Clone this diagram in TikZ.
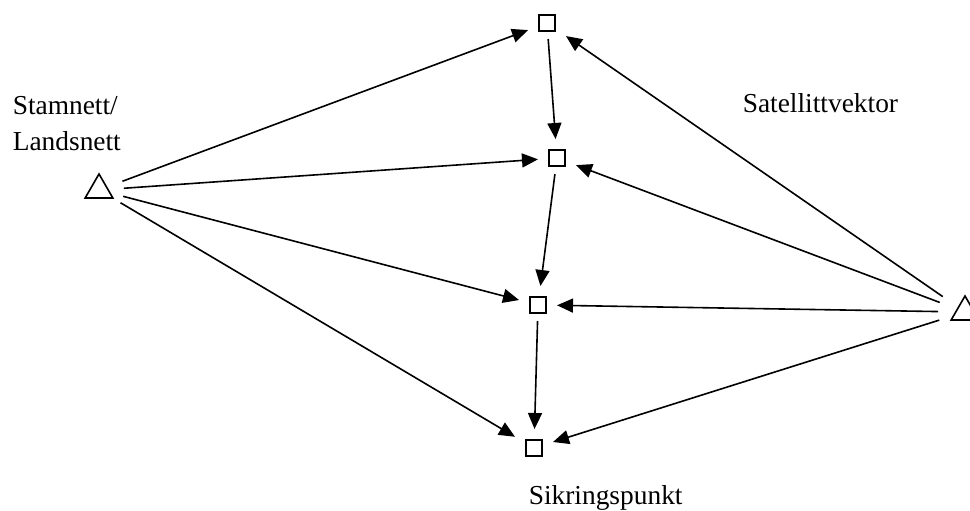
\documentclass[tikz,border=0pt]{standalone}
\usepackage{fontspec}
\setmainfont{Liberation Serif}
\usetikzlibrary{arrows.meta,shapes.geometric}
\begin{document}
\begin{tikzpicture}[x=1pt,y=-1pt,
  line width=1.6pt,
  sq/.style={draw,rectangle,minimum size=16pt,inner sep=0pt,line width=1.6pt,outer sep=11pt},
  tri/.style={draw,regular polygon,regular polygon sides=3,minimum size=32pt,inner sep=0pt,line width=1.6pt},
  arr/.style={-{Triangle[length=16pt,width=14pt]}},
  lbl/.style={font=\fontsize{27.4pt}{36pt}\selectfont,inner sep=0pt,align=left}]
\useasboundingbox (0,0) rectangle (970,511);
\node[tri] (L) at (99,190) {};
\node[tri] (R) at (965,312) {};
\node[sq] (s1) at (547,23) {};
\node[sq] (s2) at (557,158) {};
\node[sq] (s3) at (538,305) {};
\node[sq] (s4) at (534,448) {};
\node[lbl,anchor=base west] (t1) at (12,150) {Stamnett/\\Landsnett};
\node[lbl,anchor=base west] (t2) at (742,113) {Satellittvektor};
\node[lbl,anchor=base west] (t3) at (528,504) {Sikringspunkt};
\foreach \s in {s1,s2,s3,s4}{
  \draw[arr,shorten <=25pt] (L.center) -- (\s);
  \draw[arr,shorten <=27pt] (R.center) -- (\s);
}
\draw[arr,shorten <=-3pt] (s1) -- (s2);
\draw[arr,shorten <=-3pt] (s2) -- (s3);
\draw[arr,shorten <=-3pt] (s3) -- (s4);
\end{tikzpicture}
\end{document}
